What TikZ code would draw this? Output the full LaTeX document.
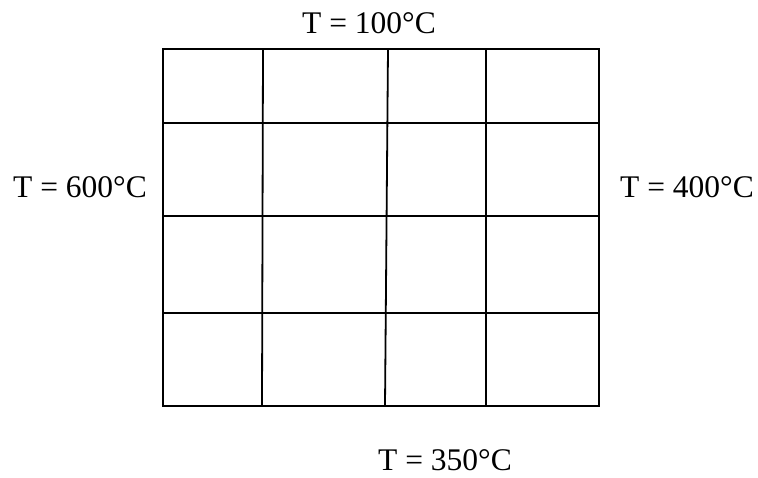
\documentclass[tikz,border=0pt]{standalone}
\usepackage{fontspec}
\setmainfont{Liberation Serif}
\usepackage{tikz}
\tikzset{
  gridline/.style={
    draw=black,
    line width=1.8pt
  },
  templabel/.style={
    anchor=base,
    inner sep=0pt,
    font=\fontsize{31.5}{36}\selectfont
  }
}

\begin{document}
\begin{tikzpicture}[
  x=1pt,
  y=-1pt
]

  \useasboundingbox (0,0) rectangle (758,478);

  % outer frame
  \draw[gridline] (163,49) rectangle (599,406);

  % rows
  \foreach \y in {123,216,313} {
    \draw[gridline] (163,\y) -- (599,\y);
  }

  % columns, slightly skewed as in the sketch
  \foreach \xtop/\xbot in {263/262,388/385,486/486} {
    \draw[gridline] (\xtop,49) -- (\xbot,406);
  }

  \node[templabel] (ttop) at (369,34) {T = 100°C};
  \node[templabel] (tleft) at (80,198) {T = 600°C};
  \node[templabel] (tright) at (687,198) {T = 400°C};
  \node[templabel] (tbottom) at (445,470) {T = 350°C};

\end{tikzpicture}
\end{document}
